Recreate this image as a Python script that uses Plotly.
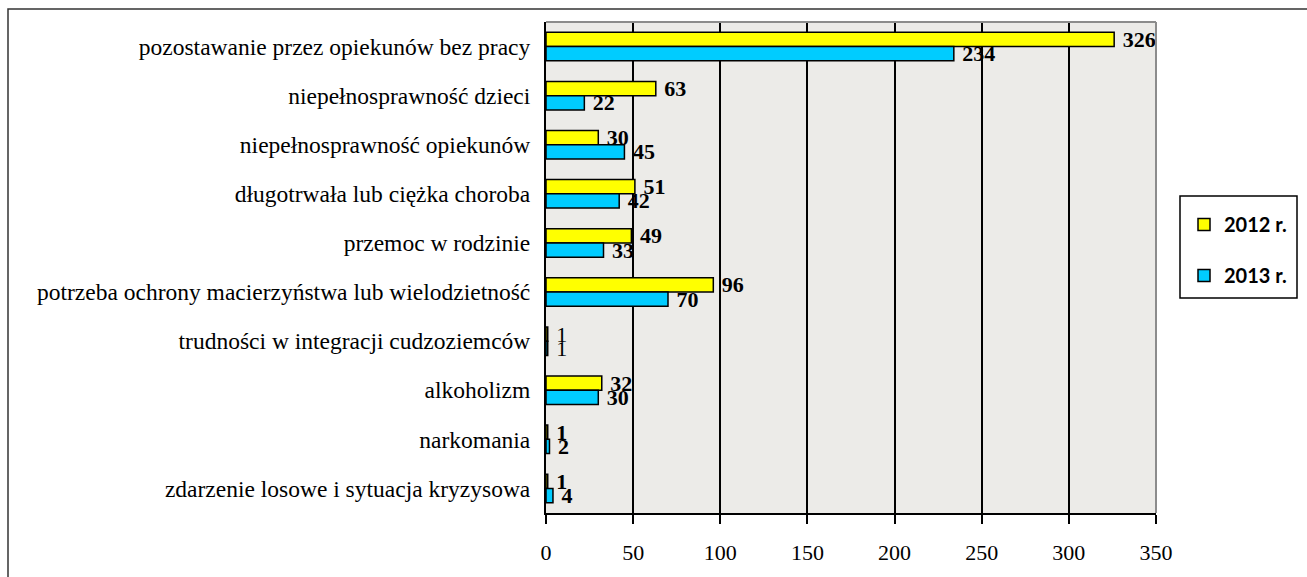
import plotly.graph_objects as go

categories = [
    "pozostawanie przez opiekunów bez pracy",
    "niepełnosprawność dzieci",
    "niepełnosprawność opiekunów",
    "długotrwała lub ciężka choroba",
    "przemoc w rodzinie",
    "potrzeba ochrony macierzyństwa lub wielodzietność",
    "trudności w integracji cudzoziemców",
    "alkoholizm",
    "narkomania",
    "zdarzenie losowe i sytuacja kryzysowa",
]
values_2012 = [326, 63, 30, 51, 49, 96, 1, 32, 1, 1]
values_2013 = [234, 22, 45, 42, 33, 70, 1, 30, 2, 4]
series_names = ["2012 r.", "2013 r."]
tick_vals = [0, 50, 100, 150, 200, 250, 300, 350]

colors = ["#FFFF00", "#00CCFF"]
label_weight = ["normal" if c.startswith("trudności") else "bold" for c in categories]

fig = go.Figure()
for i, (name, vals) in enumerate(zip(series_names, [values_2012, values_2013])):
    fig.add_trace(go.Bar(
        y=categories, x=vals, orientation="h", name=name,
        legendgroup=name,
        marker=dict(color=colors[i], line=dict(color="black", width=1.5)),
        text=[" " + str(v) for v in vals], textposition="outside",
        textfont=dict(family="Liberation Serif", size=22, color="black", weight=label_weight),
        constraintext="none", cliponaxis=False,
    ))

L, R, T, B = 546, 151, 22, 64
W, H = 1307, 577
pw, ph = W - L - R, H - T - B

def px_x(x):
    return (x - L) / pw

def px_y(y):
    return (H - B - y) / ph

fig.update_layout(
    width=W, height=H,
    margin=dict(l=L, r=R, t=T, b=B, autoexpand=False),
    paper_bgcolor="white", plot_bgcolor="#ECEBE8",
    barmode="group", bargap=0.42, bargroupgap=0.0,
    font=dict(family="Liberation Serif", color="black"),
    showlegend=True,
    legend=dict(
        x=px_x(1184), y=px_y(205), xanchor="left", yanchor="top",
        bgcolor="rgba(0,0,0,0)", borderwidth=0,
        font=dict(family="Lato", size=20, color="black", weight="bold"),
        traceorder="grouped", tracegroupgap=22,
        itemwidth=30,
    ),
    xaxis=dict(
        range=[0, 350], tickvals=tick_vals, ticktext=[str(t) for t in tick_vals],
        showgrid=True, gridcolor="black", gridwidth=1.5,
        showline=True, linecolor="black", linewidth=2,
        ticks="outside", ticklen=9, tickcolor="black", tickwidth=2,
        ticklabelstandoff=10,
        tickfont=dict(family="Liberation Serif", size=22, color="black"),
        zeroline=False, fixedrange=True,
    ),
    yaxis=dict(
        autorange="reversed", showgrid=False,
        showline=True, linecolor="black", linewidth=2,
        ticks="", ticklabelstandoff=9,
        tickfont=dict(family="Liberation Serif", size=23.5, color="black"),
        fixedrange=True,
    ),
    shapes=[
        dict(type="line", xref="paper", yref="paper", x0=0, x1=1, y0=1, y1=1,
             line=dict(color="#8C8C8C", width=2), layer="above"),
        dict(type="line", xref="paper", yref="paper", x0=1, x1=1, y0=0, y1=1,
             line=dict(color="#8C8C8C", width=2), layer="above"),
        dict(type="rect", xref="paper", yref="paper",
             x0=px_x(8), x1=1.5, y0=-0.5, y1=px_y(9),
             line=dict(color="#333333", width=1.5), layer="above"),
        dict(type="rect", xref="paper", yref="paper",
             x0=px_x(1180), x1=px_x(1297), y0=px_y(298), y1=px_y(196),
             line=dict(color="black", width=1.5), fillcolor="white", layer="below"),
    ],
)

fig.write_html(
    "out.html",
    config={"displayModeBar": False},
    post_script="document.body.style.margin='0';document.body.style.overflow='hidden';",
)
